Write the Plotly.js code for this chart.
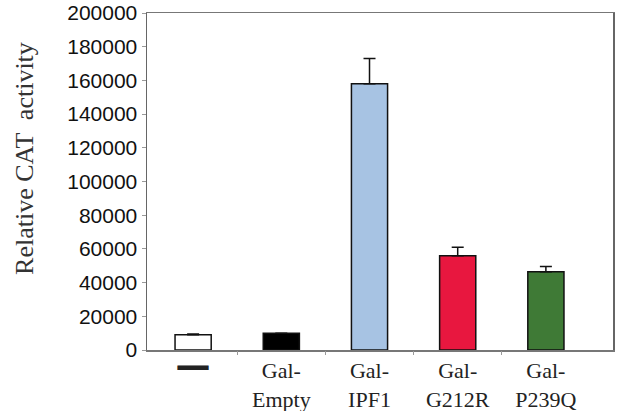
<!DOCTYPE html>
<html><head><meta charset="utf-8">
<script src="https://cdn.plot.ly/plotly-3.0.1.min.js"></script>
<style>html,body{margin:0;padding:0;background:#fff}#c{width:620px;height:411px}</style>
</head><body><div id="c"></div>
<script>
const categories = ['—', 'Gal-<br>Empty', 'Gal-<br>IPF1', 'Gal-<br>G212R', 'Gal-<br>P239Q'];
const values = [9000, 10000, 158000, 56000, 46500];
const errors = [500, 0, 15000, 5000, 3000];
const colors = ['#ffffff', '#000000', '#a7c3e3', '#e8173f', '#3f7a36'];
const yTicks = [0, 20000, 40000, 60000, 80000, 100000, 120000, 140000, 160000, 180000, 200000];

const idx = categories.map((c, i) => i);
const ticktext = categories.map((c, i) => i === 0 ? '<b><span style="font-family:DejaVu Sans;font-size:35px">—</span></b>' : c);

const data = [{
  type: 'bar', x: idx, y: values, width: 0.41,
  marker: {color: colors, line: {color: '#111', width: 1.5}},
  error_y: {type: 'data', symmetric: false, array: errors, arrayminus: errors.map(() => 0),
            color: '#111', thickness: 1.5, width: 6},
  hoverinfo: 'none'
}, {
  type: 'scatter', x: [0.5, 1.5, 2.5, 3.5], y: [0, 0, 0, 0], xaxis: 'x2', mode: 'none', hoverinfo: 'none'
}];

const layout = {
  width: 620, height: 411,
  margin: {l: 147, r: 7, t: 13, b: 61},
  paper_bgcolor: '#fff', plot_bgcolor: '#fff',
  showlegend: false,
  xaxis: {range: [-0.523, 4.761], tickvals: idx, ticktext: ticktext, ticks: '',
          showline: true, mirror: true, linecolor: '#777', linewidth: 1.5,
          showgrid: false, zeroline: false,
          tickfont: {family: 'Liberation Serif, Times New Roman, serif', size: 22, color: '#222'}},
  xaxis2: {range: [-0.523, 4.761], overlaying: 'x', tickvals: [0.5, 1.5, 2.5, 3.5], showticklabels: false,
           ticks: 'outside', ticklen: 4, tickcolor: '#999', tickwidth: 1, showgrid: false, zeroline: false, showline: false},
  yaxis: {range: [0, 200000], tickvals: yTicks, ticktext: yTicks.map(String), ticks: 'outside', ticklen: 4,
          tickcolor: '#999', tickwidth: 1, showline: true, mirror: true, linecolor: '#666', linewidth: 1.5,
          showgrid: false, zeroline: false,
          tickfont: {family: 'Liberation Sans, Arial, sans-serif', size: 21, color: '#111'}},
  annotations: [{text: 'Relative CAT  activity', xref: 'paper', yref: 'paper', x: -0.2618, y: 0.567,
                 textangle: -90, showarrow: false, xanchor: 'center', yanchor: 'middle',
                 font: {family: 'Liberation Serif, Times New Roman, serif', size: 26, color: '#333'}}]
};
Plotly.newPlot('c', data, layout, {staticPlot: true});
</script></body></html>
